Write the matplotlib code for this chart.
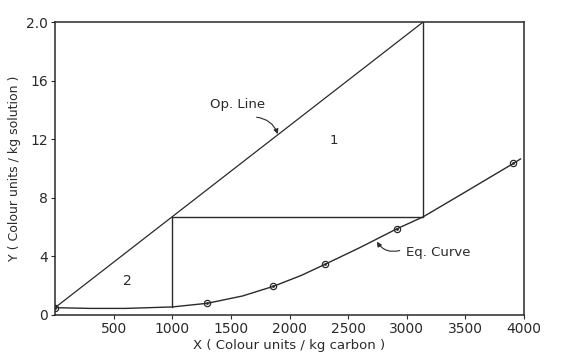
import numpy as np
import matplotlib
matplotlib.use("Agg")
import matplotlib.pyplot as plt

# ------------------------------------------------------------
# Data
# ------------------------------------------------------------
eq_pts_x = [0, 1300, 1860, 2300, 2920, 3910]
eq_pts_y = [0.5, 0.8, 1.95, 3.45, 5.9, 10.35]

eq_curve_x = [0, 300, 600, 1000, 1300, 1600, 1860, 2100, 2300, 2600, 2920, 3140, 3500, 3910, 3970]
eq_curve_y = [0.5, 0.45, 0.45, 0.55, 0.8, 1.3, 1.95, 2.7, 3.45, 4.6, 5.9, 6.7, 8.4, 10.35, 10.65]

op_x = [0, 3140]
op_y = [0.5, 20.0]

# stage construction: down from op line to eq curve, across, down again
stage_x = [3140, 3140, 1000, 1000]
stage_y = [20.0, 6.7, 6.7, 0.55]

xticks = [500, 1000, 1500, 2000, 2500, 3000, 3500, 4000]
yticks = [0, 4, 8, 12, 16, 20]
ytick_labels = ["0", "4", "8", "12", "16", "2.0"]

# ------------------------------------------------------------
# Plot
# ------------------------------------------------------------
fig = plt.figure(figsize=(5.75, 3.57), dpi=100)
ax = fig.add_axes([55 / 575, 1 - 315 / 357, 469 / 575, 293 / 357])

ink = "#2a2a2a"
ax.plot(op_x, op_y, color=ink, lw=0.9)
ax.plot(stage_x, stage_y, color=ink, lw=1.0)
ax.plot(eq_curve_x, eq_curve_y, color=ink, lw=1.0)
ax.plot(eq_pts_x, eq_pts_y, ls="none", marker="o", ms=4.5, mfc="none", mec=ink, mew=0.9)
ax.plot(eq_pts_x, eq_pts_y, ls="none", marker=".", ms=2, color=ink)

ax.set_xlim(0, 4000)
ax.set_ylim(0, 20)
ax.set_xticks(xticks)
ax.set_yticks(yticks)
ax.set_yticklabels(ytick_labels)
ax.tick_params(direction="out", length=3, width=0.8, colors=ink, labelsize=10, pad=2)
for s in ax.spines.values():
    s.set_color(ink)
    s.set_linewidth(1.1)

ax.set_xlabel("X ( Colour units / kg carbon )", fontsize=9.5, color=ink, labelpad=2)
ax.set_ylabel("Y ( Colour units / kg solution )", fontsize=9, color=ink, labelpad=4)

# stage numbers
ax.text(2380, 11.9, "1", fontsize=9.5, color=ink, ha="center", va="center")
ax.text(620, 2.3, "2", fontsize=10, color=ink, ha="center", va="center")

# annotations with curved arrows
ax.text(1560, 14.4, "Op. Line", fontsize=9.5, color=ink, ha="center", va="center")
ax.annotate("", xy=(1900, 12.35), xytext=(1720, 13.5),
            arrowprops=dict(arrowstyle="-|>", color=ink, lw=0.8, mutation_scale=7,
                            connectionstyle="arc3,rad=-0.3", shrinkA=0, shrinkB=0))
ax.text(2990, 4.3, "Eq. Curve", fontsize=9.5, color=ink, ha="left", va="center")
ax.annotate("", xy=(2745, 5.0), xytext=(2940, 4.4),
            arrowprops=dict(arrowstyle="-|>", color=ink, lw=0.8, mutation_scale=7,
                            connectionstyle="arc3,rad=-0.35", shrinkA=0, shrinkB=0))

fig.savefig("out.png", dpi=100)
